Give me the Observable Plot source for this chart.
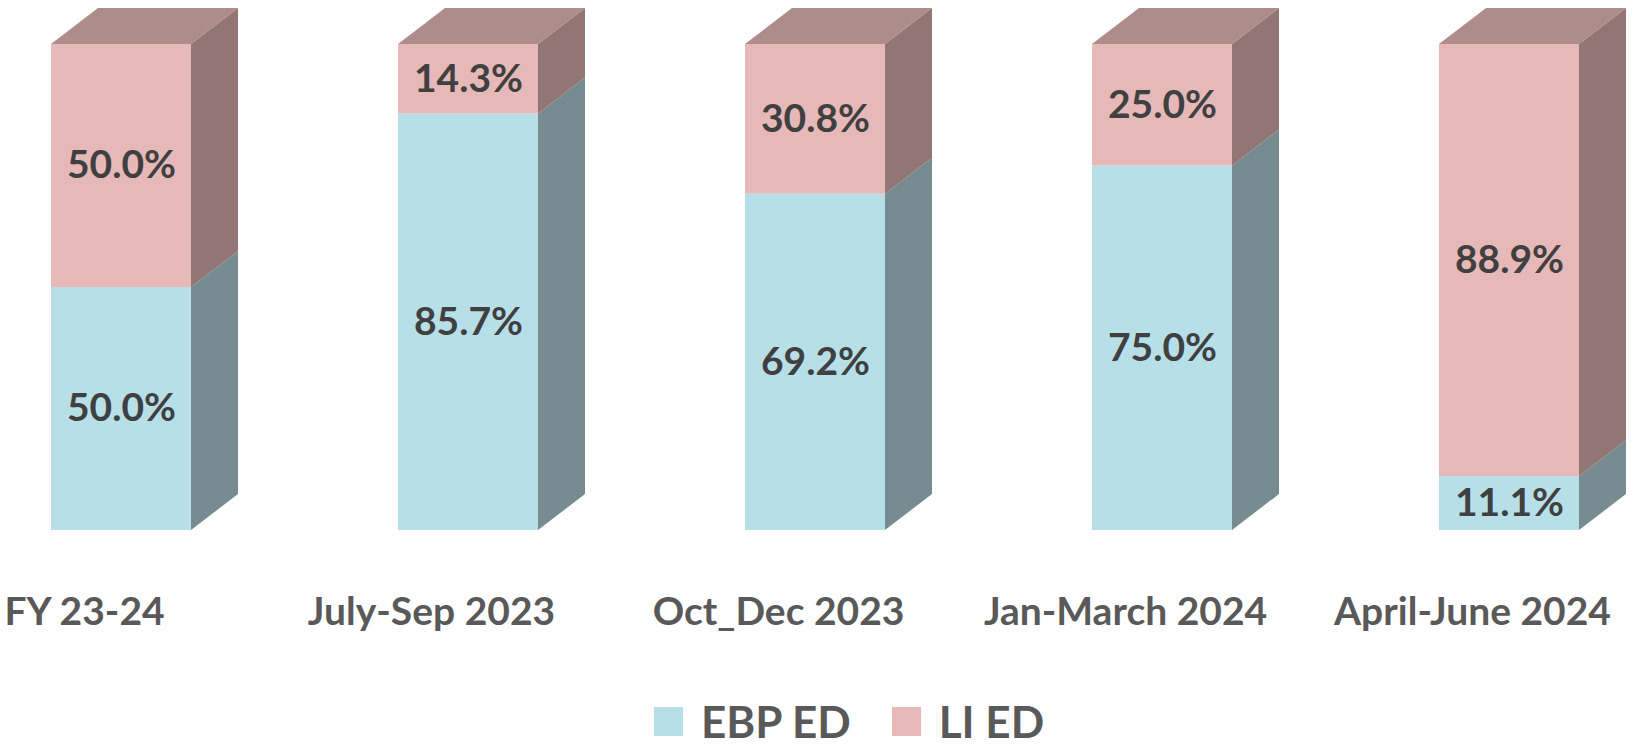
<!DOCTYPE html>
<html><head><meta charset="utf-8">
<script src="https://cdn.jsdelivr.net/npm/d3@7"></script>
<script src="https://cdn.jsdelivr.net/npm/@observablehq/plot@0.6"></script>
<style>
body{margin:0;background:#fff;font-family:Lato,"Noto Sans",sans-serif;}
#chart{position:relative;width:1633px;height:748px;}
#legend{position:absolute;left:654px;top:695px;height:52px;display:flex;align-items:center;font-weight:bold;font-size:44px;color:#595959;line-height:52px;}
.sw{width:29px;height:29px;display:inline-block;margin-right:18px;}
.item{display:flex;align-items:center;margin-right:41px;}
</style></head><body><div id="chart"></div>
<script>
const categories = ["FY 23-24", "July-Sep 2023", "Oct_Dec 2023", "Jan-March 2024", "April-June 2024"];
const series = ["EBP ED", "LI ED"];
const ebpValues = [50.0, 85.7, 69.2, 75.0, 11.1];
const liValues = [50.0, 14.3, 30.8, 25.0, 88.9];
const frontColors = ["#b7dfe8", "#e6b9b8"];
const sideColors = ["#768c91", "#917675"];
const topColor = "#ae8c89";

const data = [];
categories.forEach((c, i) => {
  data.push({cat: c, series: series[0], value: ebpValues[i]});
  data.push({cat: c, series: series[1], value: liValues[i]});
});

const DX = 47, DY = 36; // 3D depth offset in pixels (style)

function faces(kind) {
  return function(index, scales, values) {
    const bw = typeof scales.x.bandwidth === "function" ? scales.x.bandwidth() : scales.scales.x.bandwidth;
    const g = d3.create("svg:g");
    const X = values.x, Y1 = values.y1, Y2 = values.y2;
    for (const i of index) {
      const L = X[i], R = L + bw;
      const yb = Math.max(Y1[i], Y2[i]), yt = Math.min(Y1[i], Y2[i]);
      let pts, fill;
      if (kind === "side") {
        pts = [[R, yb], [R + DX, yb - DY], [R + DX, yt - DY], [R, yt]];
        fill = sideColors[series.indexOf(data[i].series)];
      } else {
        let isTop = true;
        for (const j of index) if (j !== i && X[j] === X[i] && Math.min(Y1[j], Y2[j]) < yt) isTop = false;
        if (!isTop) continue;
        pts = [[L, yt], [R, yt], [R + DX, yt - DY], [L + DX, yt - DY]];
        fill = topColor;
      }
      g.append("path").attr("d", "M" + pts.map(p => p.join(",")).join("L") + "Z").attr("fill", fill);
    }
    return g.node();
  };
}

const plot = Plot.plot({
  width: 1633, height: 680,
  marginTop: 44, marginBottom: 150, marginLeft: 0, marginRight: 0,
  x: {type: "band", domain: categories, range: [49, 1581], paddingInner: 0.5977, paddingOuter: 0, align: 0.5, axis: null},
  y: {domain: [0, 100], axis: null},
  color: {domain: series, range: frontColors},
  style: {fontFamily: "Lato, sans-serif", background: "white", overflow: "visible"},
  marks: [
    Plot.barY(data, Plot.stackY({x: "cat", y: "value", fill: "series", render: faces("side")})),
    Plot.barY(data, Plot.stackY({x: "cat", y: "value", fill: "series"})),
    Plot.barY(data, Plot.stackY({x: "cat", y: "value", fill: "series", render: faces("top")})),
    Plot.text(data, Plot.stackY({x: "cat", y: "value", text: d => d.value.toFixed(1) + "%", fill: "#404040", fontSize: 39, fontWeight: "bold"})),
    Plot.text(categories, {x: d => d, frameAnchor: "bottom", dy: 82, dx: -37, lineAnchor: "middle", fill: "#595959", fontSize: 39, fontWeight: "bold", text: d => d})
  ]
});
const chart = document.getElementById("chart");
chart.appendChild(plot);
const legend = document.createElement("div");
legend.id = "legend";
series.forEach((s, i) => {
  const item = document.createElement("div");
  item.className = "item";
  const sw = document.createElement("span");
  sw.className = "sw";
  sw.style.background = frontColors[i];
  item.appendChild(sw);
  item.appendChild(document.createTextNode(s));
  legend.appendChild(item);
});
chart.appendChild(legend);
</script></body></html>
